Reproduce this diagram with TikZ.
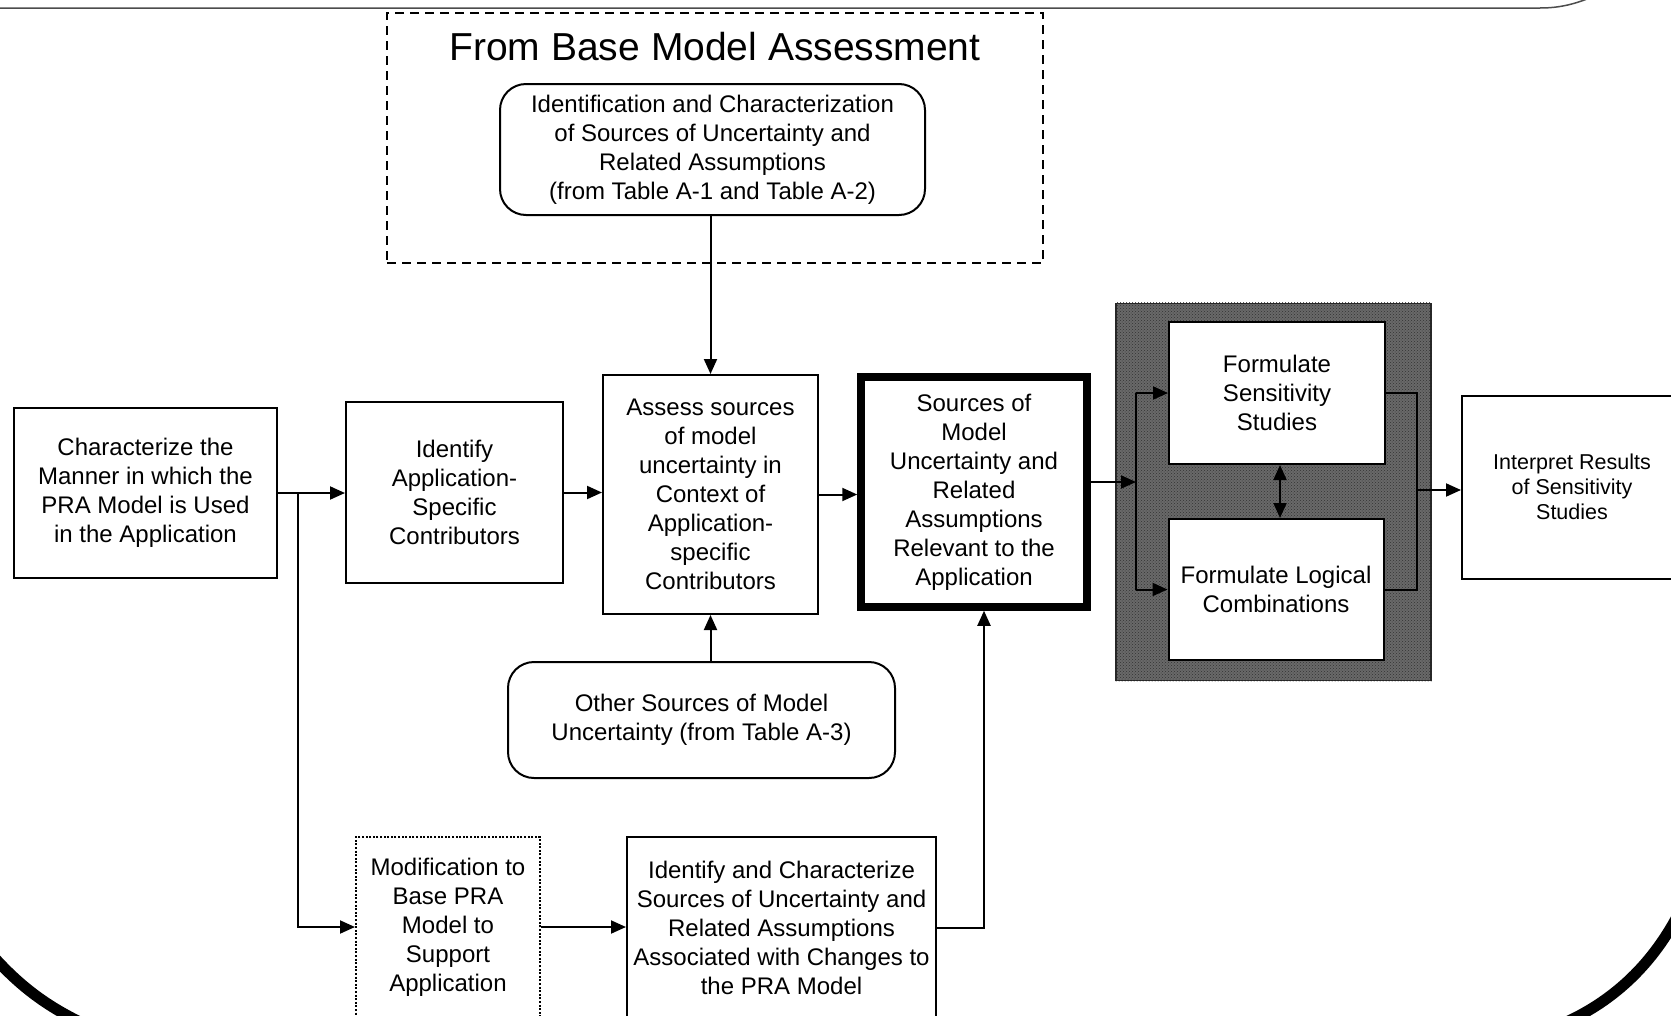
\documentclass[tikz,border=0pt]{standalone}
\usepackage{fontspec}
\setmainfont{Liberation Sans}
\usetikzlibrary{arrows.meta,patterns}
\tikzset{
  box/.style={draw=black, line width=2pt, rectangle, align=center, inner sep=0pt,
    font=\fontsize{24}{29}\selectfont},
  rbox/.style={box, rounded corners=26pt},
  arr/.style={line width=2pt, -{Triangle[length=15pt,width=13pt]}},
  arrtwo/.style={line width=2pt, {Triangle[length=15pt,width=13pt]}-{Triangle[length=15pt,width=13pt]}},
  plain/.style={line width=2pt},
}
\begin{document}
\begin{tikzpicture}[x=1pt,y=-1pt]
\path[use as bounding box, clip] (0,0) rectangle (1671,1015);
\fill[white] (0,0) rectangle (1671,1015);
% frame pieces
\draw[line width=1.5pt, black!70] (-5,8) -- (1540,8) .. controls (1560,8) and (1575,4) .. (1592,-3);
\draw[line width=11pt] (-8,955) .. controls (18,984) and (44,1005) .. (84,1024);
\draw[line width=11pt] (1562,1024) .. controls (1610,1003) and (1650,968) .. (1678,915);
% dashed container
\node[draw, line width=2pt, dash pattern=on 9pt off 6pt, minimum width=656pt, minimum height=250pt, inner sep=0pt] (base) at (715,138) {};
\node[font=\fontsize{39}{44}\selectfont, inner sep=0pt] (title) at (715,47) {From Base Model Assessment};
\node[rbox, minimum width=425pt, minimum height=131pt] (top) at (712.5,149.5)
  {Identification and Characterization\\of Sources of Uncertainty and\\Related Assumptions\\(from Table A-1 and Table A-2)};
% main row
\node[box, minimum width=263pt, minimum height=170pt] (char) at (145.5,493)
  {Characterize the\\Manner in which the\\PRA Model is Used\\in the Application};
\node[box, minimum width=217pt, minimum height=181pt] (ident) at (454.5,492.5)
  {Identify\\Application-\\Specific\\Contributors};
\node[box, minimum width=215pt, minimum height=239pt] (assess) at (710.5,494.5)
  {Assess sources\\of model\\uncertainty in\\Context of\\Application-\\specific\\Contributors};
\node[box, line width=7.5pt, minimum width=226pt, minimum height=230pt] (sources) at (974,492)
  {Sources of\\Model\\Uncertainty and\\Related\\Assumptions\\Relevant to the\\Application};
\node[draw=black!85, line width=1.5pt, fill={rgb,255:red,105;green,105;blue,105}, minimum width=315pt, minimum height=377pt, inner sep=0pt] (gray) at (1273.5,492) {};
\fill[pattern=crosshatch dots, pattern color=black!80] (gray.north west) rectangle (gray.south east);
\node[box, fill=white, minimum width=216pt, minimum height=142pt] (sens) at (1277,393)
  {Formulate\\Sensitivity\\Studies};
\node[box, fill=white, minimum width=215pt, minimum height=141pt] (logic) at (1276,589.5)
  {Formulate Logical\\Combinations};
\node[box, font=\fontsize{21.5}{25}\selectfont, minimum width=220pt, minimum height=183pt] (interp) at (1572,487)
  {Interpret Results\\of Sensitivity\\Studies};
\node[rbox, minimum width=387pt, minimum height=116pt] (other) at (701.5,720)
  {Other Sources of Model\\Uncertainty (from Table A-3)};
\node[box, line width=2pt, dash pattern=on 2pt off 1.6pt, minimum width=184pt, minimum height=180pt] (modif) at (448,927)
  {Modification to\\Base PRA\\Model to\\Support\\Application};
\node[box, minimum width=309pt, minimum height=182pt] (idchar) at (781.5,928)
  {Identify and Characterize\\Sources of Uncertainty and\\Related Assumptions\\Associated with Changes to\\the PRA Model};
% connectors
\draw[arr] (char.east) -- (char.east -| ident.west);
\coordinate (br) at (298,493);
\draw[arr] (br) |- (modif.west);
\draw[arr] (ident.east) -- (ident.east -| assess.west);
\draw[arr] (assess.north |- top.south) -- (assess.north);
\draw[arr] (assess.south |- other.north) -- (assess.south);
\draw[arr] (assess.east) -- (assess.east -| sources.west);
\draw[arr] (modif.east) -- (modif.east -| idchar.west);
\draw[arr] (idchar.east) -| ([xshift=10pt]sources.south);
\coordinate (vl1) at (1136,393);
\coordinate (vl2) at (1136,589.5);
\coordinate (vlm) at (1136,482);
\draw[arr] ([yshift=10pt]sources.east) -- (vlm);
\draw[plain] (vl1) -- (vl2);
\draw[arr] (vl1) -- (vl1 -| sens.west);
\draw[arr] (vl2) -- (vl2 -| logic.west);
\coordinate (vr1) at (1417,393);
\coordinate (vr2) at (1417,589.5);
\coordinate (vrm) at (1417,490);
\draw[plain] (sens.east) -- (vr1) -- (vr2) -- (logic.east);
\draw[arr] (vrm) -- (vrm -| interp.west);
\draw[arrtwo] ([xshift=3pt]sens.south) -- ([xshift=3pt]sens.south |- logic.north);
\end{tikzpicture}
\end{document}
